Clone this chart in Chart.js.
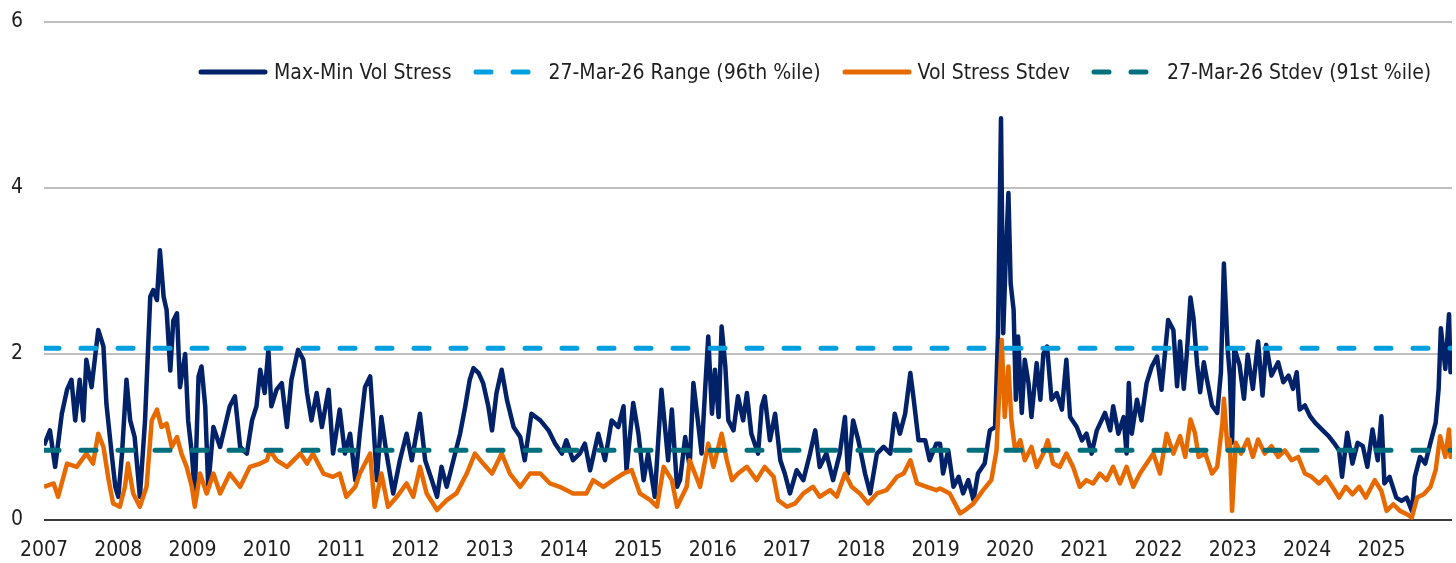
<!DOCTYPE html>
<html>
<head>
<meta charset="utf-8">
<title>Vol stress</title>
<script src="https://cdn.jsdelivr.net/npm/chart.js@4.4.1/dist/chart.umd.min.js"></script>
<style>
  body { margin: 0; background: #fff; }
  #wrap { position: relative; width: 1456px; height: 563px; }
  #legend {
    position: absolute; left: 198px; top: 57px;
    display: flex; align-items: center; white-space: nowrap;
    font-family: "DejaVu Sans Condensed", "Liberation Sans", sans-serif;
    font-size: 21px; line-height: 30px; color: #1f1f1f;
  }
  .item { display: flex; align-items: center; margin-right: 21px; }
  .item svg { margin-right: 6px; }
</style>
</head>
<body>
<div id="wrap">
  <canvas id="myChart" width="1456" height="563"></canvas>
  <div id="legend"></div>
</div>
<script>
//
// Data (x values are decimal years)
//

var seriesNames = ['Max-Min Vol Stress', '27-Mar-26 Range (96th %ile)', 'Vol Stress Stdev', '27-Mar-26 Stdev (91st %ile)'];

var tickYears = [2007, 2008, 2009, 2010, 2011, 2012, 2013, 2014, 2015, 2016,
  2017, 2018, 2019, 2020, 2021, 2022, 2023, 2024, 2025];
var yTicks = [0, 2, 4, 6];
var firstYear = 2007;
var lastYear = 2025.95;

var rangeLevel = 2.07;
var stdevLevel = 0.84;

var stressYears = [
  2007.00, 2007.08, 2007.15, 2007.24, 2007.31, 2007.37, 2007.42, 2007.48, 2007.53, 2007.57,
  2007.64, 2007.73, 2007.80, 2007.84, 2007.91, 2007.96, 2008.00, 2008.05, 2008.11, 2008.16,
  2008.22, 2008.29, 2008.36, 2008.43, 2008.47, 2008.52, 2008.56, 2008.61, 2008.65, 2008.70,
  2008.74, 2008.79, 2008.83, 2008.90, 2008.94, 2008.99, 2009.03, 2009.08, 2009.12, 2009.17,
  2009.21, 2009.28, 2009.37, 2009.50, 2009.57, 2009.64, 2009.73, 2009.80, 2009.86, 2009.91,
  2009.97, 2010.02, 2010.06, 2010.13, 2010.20, 2010.27, 2010.33, 2010.42, 2010.49, 2010.54,
  2010.60, 2010.67, 2010.74, 2010.83, 2010.89, 2010.98, 2011.05, 2011.12, 2011.19, 2011.25,
  2011.32, 2011.39, 2011.43, 2011.48, 2011.54, 2011.61, 2011.70, 2011.79, 2011.88, 2011.95,
  2012.06, 2012.13, 2012.22, 2012.29, 2012.35, 2012.42, 2012.51, 2012.60, 2012.67, 2012.73,
  2012.78, 2012.85, 2012.91, 2012.98, 2013.03, 2013.09, 2013.16, 2013.23, 2013.32, 2013.41,
  2013.47, 2013.56, 2013.68, 2013.79, 2013.88, 2013.97, 2014.03, 2014.12, 2014.21, 2014.28,
  2014.35, 2014.46, 2014.55, 2014.64, 2014.73, 2014.80, 2014.84, 2014.93, 2015.00, 2015.07,
  2015.13, 2015.22, 2015.31, 2015.40, 2015.45, 2015.52, 2015.56, 2015.63, 2015.69, 2015.74,
  2015.81, 2015.85, 2015.90, 2015.94, 2015.99, 2016.03, 2016.08, 2016.12, 2016.17, 2016.21,
  2016.28, 2016.34, 2016.41, 2016.46, 2016.52, 2016.61, 2016.66, 2016.70, 2016.77, 2016.84,
  2016.91, 2016.97, 2017.04, 2017.13, 2017.22, 2017.31, 2017.38, 2017.44, 2017.53, 2017.62,
  2017.71, 2017.78, 2017.82, 2017.89, 2017.96, 2018.05, 2018.12, 2018.21, 2018.30, 2018.39,
  2018.45, 2018.52, 2018.59, 2018.66, 2018.70, 2018.77, 2018.86, 2018.92, 2019.01, 2019.06,
  2019.10, 2019.17, 2019.24, 2019.31, 2019.37, 2019.44, 2019.51, 2019.57, 2019.66, 2019.73,
  2019.80, 2019.84, 2019.88, 2019.91, 2019.94, 2019.98, 2020.01, 2020.05, 2020.08, 2020.11,
  2020.16, 2020.20, 2020.25, 2020.29, 2020.36, 2020.41, 2020.45, 2020.50, 2020.56, 2020.63,
  2020.70, 2020.76, 2020.81, 2020.90, 2020.97, 2021.03, 2021.10, 2021.17, 2021.28, 2021.35,
  2021.39, 2021.46, 2021.53, 2021.57, 2021.60, 2021.64, 2021.71, 2021.77, 2021.84, 2021.91,
  2021.98, 2022.04, 2022.13, 2022.20, 2022.25, 2022.29, 2022.34, 2022.38, 2022.43, 2022.47,
  2022.52, 2022.56, 2022.61, 2022.65, 2022.72, 2022.79, 2022.84, 2022.88, 2022.93, 2022.96,
  2022.99, 2023.02, 2023.09, 2023.15, 2023.20, 2023.27, 2023.34, 2023.40, 2023.45, 2023.52,
  2023.61, 2023.68, 2023.75, 2023.81, 2023.86, 2023.90, 2023.97, 2024.04, 2024.11, 2024.20,
  2024.29, 2024.36, 2024.43, 2024.47, 2024.54, 2024.61, 2024.68, 2024.75, 2024.81, 2024.88,
  2024.95, 2025.00, 2025.04, 2025.11, 2025.20, 2025.27, 2025.34, 2025.41, 2025.45, 2025.52,
  2025.59, 2025.66, 2025.73, 2025.77, 2025.80, 2025.86, 2025.91, 2025.93, 2025.95
];
var stressValues = [
  0.90, 1.08, 0.64, 1.28, 1.57, 1.69, 1.20, 1.69, 1.20, 1.93,
  1.60, 2.29, 2.09, 1.40, 0.80, 0.40, 0.28, 0.80, 1.69, 1.20,
  1.00, 0.28, 1.20, 2.69, 2.77, 2.65, 3.25, 2.69, 2.53, 1.80,
  2.40, 2.49, 1.60, 2.00, 1.20, 0.80, 0.32, 1.73, 1.85, 1.37,
  0.40, 1.12, 0.88, 1.37, 1.49, 0.88, 0.80, 1.20, 1.37, 1.81,
  1.53, 2.05, 1.37, 1.57, 1.65, 1.12, 1.69, 2.05, 1.93, 1.53,
  1.20, 1.53, 1.12, 1.57, 0.80, 1.33, 0.80, 1.04, 0.48, 1.04,
  1.60, 1.73, 1.20, 0.48, 1.24, 0.80, 0.32, 0.72, 1.04, 0.72,
  1.28, 0.72, 0.48, 0.28, 0.64, 0.40, 0.72, 1.04, 1.37, 1.69,
  1.83, 1.77, 1.65, 1.37, 1.08, 1.53, 1.81, 1.45, 1.12, 1.00,
  0.72, 1.28, 1.20, 1.08, 0.92, 0.80, 0.96, 0.72, 0.80, 0.92,
  0.60, 1.04, 0.72, 1.20, 1.12, 1.37, 0.60, 1.41, 1.04, 0.48,
  0.80, 0.28, 1.57, 0.72, 1.33, 0.40, 0.48, 1.00, 0.64, 1.65,
  1.12, 0.80, 1.60, 2.21, 1.28, 1.81, 1.24, 2.33, 1.85, 1.20,
  1.08, 1.49, 1.20, 1.53, 1.04, 0.80, 1.37, 1.49, 0.96, 1.28,
  0.72, 0.56, 0.32, 0.60, 0.48, 0.80, 1.08, 0.64, 0.80, 0.48,
  0.80, 1.24, 0.56, 1.20, 0.96, 0.56, 0.32, 0.80, 0.88, 0.80,
  1.28, 1.04, 1.28, 1.77, 1.49, 0.96, 0.96, 0.72, 0.92, 0.92,
  0.56, 0.84, 0.40, 0.52, 0.32, 0.48, 0.24, 0.56, 0.68, 1.08,
  1.12, 2.25, 4.84, 2.25, 3.05, 3.94, 2.85, 2.53, 1.45, 2.21,
  1.29, 1.93, 1.65, 1.24, 1.89, 1.45, 2.00, 2.09, 1.45, 1.53,
  1.33, 1.93, 1.24, 1.12, 0.96, 1.04, 0.80, 1.08, 1.29, 1.08,
  1.37, 1.04, 1.24, 0.80, 1.65, 1.04, 1.45, 1.20, 1.65, 1.85,
  1.97, 1.57, 2.41, 2.29, 1.61, 2.15, 1.58, 1.99, 2.68, 2.44,
  1.87, 1.54, 1.90, 1.70, 1.38, 1.29, 1.78, 3.09, 2.07, 1.74,
  0.93, 2.07, 1.87, 1.46, 1.99, 1.58, 2.15, 1.50, 2.11, 1.74,
  1.90, 1.66, 1.74, 1.58, 1.78, 1.33, 1.38, 1.25, 1.17, 1.09,
  1.01, 0.93, 0.84, 0.52, 1.05, 0.68, 0.93, 0.89, 0.64, 1.09,
  0.72, 1.25, 0.44, 0.52, 0.27, 0.23, 0.27, 0.11, 0.52, 0.76,
  0.68, 0.93, 1.17, 1.58, 2.31, 1.82, 2.48, 1.78, 2.07
];

var stdevYears = [
  2007.00, 2007.13, 2007.19, 2007.31, 2007.44, 2007.57, 2007.66, 2007.73, 2007.80, 2007.87,
  2007.93, 2008.02, 2008.09, 2008.13, 2008.20, 2008.29, 2008.38, 2008.45, 2008.52, 2008.58,
  2008.65, 2008.72, 2008.79, 2008.85, 2008.92, 2008.99, 2009.03, 2009.10, 2009.19, 2009.28,
  2009.37, 2009.50, 2009.64, 2009.77, 2009.91, 2010.00, 2010.04, 2010.13, 2010.27, 2010.45,
  2010.54, 2010.62, 2010.76, 2010.89, 2010.98, 2011.07, 2011.19, 2011.25, 2011.39, 2011.45,
  2011.54, 2011.63, 2011.75, 2011.88, 2011.97, 2012.06, 2012.15, 2012.29, 2012.42, 2012.55,
  2012.69, 2012.80, 2012.91, 2013.03, 2013.16, 2013.27, 2013.41, 2013.54, 2013.68, 2013.81,
  2013.94, 2014.12, 2014.30, 2014.39, 2014.53, 2014.66, 2014.80, 2014.91, 2015.02, 2015.16,
  2015.25, 2015.34, 2015.45, 2015.52, 2015.65, 2015.69, 2015.76, 2015.83, 2015.94, 2016.01,
  2016.12, 2016.19, 2016.26, 2016.34, 2016.46, 2016.59, 2016.70, 2016.82, 2016.88, 2017.00,
  2017.11, 2017.22, 2017.35, 2017.44, 2017.58, 2017.67, 2017.78, 2017.87, 2017.98, 2018.09,
  2018.21, 2018.34, 2018.48, 2018.57, 2018.66, 2018.75, 2018.88, 2019.01, 2019.06, 2019.19,
  2019.33, 2019.40, 2019.51, 2019.64, 2019.75, 2019.82, 2019.89, 2019.93, 2019.98, 2020.02,
  2020.07, 2020.14, 2020.20, 2020.29, 2020.36, 2020.45, 2020.51, 2020.58, 2020.67, 2020.76,
  2020.85, 2020.94, 2021.03, 2021.12, 2021.21, 2021.30, 2021.39, 2021.48, 2021.57, 2021.66,
  2021.75, 2021.84, 2021.93, 2022.02, 2022.11, 2022.20, 2022.29, 2022.36, 2022.43, 2022.49,
  2022.54, 2022.63, 2022.72, 2022.79, 2022.86, 2022.88, 2022.93, 2022.96, 2022.99, 2023.04,
  2023.11, 2023.20, 2023.27, 2023.34, 2023.43, 2023.52, 2023.61, 2023.70, 2023.79, 2023.88,
  2023.97, 2024.06, 2024.16, 2024.25, 2024.34, 2024.43, 2024.52, 2024.61, 2024.70, 2024.79,
  2024.91, 2025.00, 2025.07, 2025.16, 2025.25, 2025.34, 2025.41, 2025.48, 2025.57, 2025.66,
  2025.73, 2025.79, 2025.86, 2025.91, 2025.93, 2025.95
];
var stdevValues = [
  0.40, 0.44, 0.28, 0.68, 0.64, 0.80, 0.68, 1.04, 0.88, 0.48,
  0.20, 0.16, 0.40, 0.68, 0.32, 0.16, 0.40, 1.20, 1.33, 1.12,
  1.16, 0.88, 1.00, 0.80, 0.64, 0.40, 0.16, 0.56, 0.32, 0.56,
  0.32, 0.56, 0.40, 0.64, 0.68, 0.72, 0.84, 0.72, 0.64, 0.80,
  0.68, 0.80, 0.56, 0.52, 0.56, 0.28, 0.40, 0.56, 0.80, 0.16,
  0.56, 0.16, 0.28, 0.44, 0.28, 0.64, 0.32, 0.12, 0.24, 0.32,
  0.56, 0.80, 0.68, 0.56, 0.80, 0.56, 0.40, 0.56, 0.56, 0.44,
  0.40, 0.32, 0.32, 0.48, 0.40, 0.48, 0.56, 0.60, 0.32, 0.24,
  0.16, 0.64, 0.48, 0.16, 0.40, 0.72, 0.56, 0.40, 0.92, 0.64,
  1.04, 0.72, 0.48, 0.56, 0.64, 0.48, 0.64, 0.52, 0.24, 0.16,
  0.20, 0.32, 0.40, 0.28, 0.36, 0.28, 0.56, 0.40, 0.32, 0.20,
  0.32, 0.36, 0.52, 0.56, 0.72, 0.44, 0.40, 0.36, 0.38, 0.32,
  0.08, 0.12, 0.20, 0.36, 0.48, 0.84, 2.17, 1.24, 1.85, 1.20,
  0.84, 0.96, 0.72, 0.88, 0.64, 0.80, 0.96, 0.68, 0.64, 0.80,
  0.64, 0.40, 0.48, 0.44, 0.56, 0.48, 0.64, 0.44, 0.64, 0.40,
  0.56, 0.68, 0.80, 0.56, 1.04, 0.80, 1.01, 0.76, 1.21, 1.05,
  0.76, 0.80, 0.56, 0.64, 1.17, 1.46, 0.84, 0.97, 0.11, 0.93,
  0.80, 0.97, 0.76, 0.97, 0.80, 0.89, 0.76, 0.84, 0.72, 0.76,
  0.56, 0.52, 0.44, 0.52, 0.40, 0.27, 0.40, 0.31, 0.40, 0.27,
  0.48, 0.35, 0.11, 0.19, 0.11, 0.07, 0.03, 0.27, 0.31, 0.40,
  0.60, 1.01, 0.76, 1.09, 0.76, 0.84
];

// Colors
var navy = '#012169';
var orange = '#E66A00';
var lightBlue = '#009FDF';
var teal = '#006F7D';
var textColor = '#1f1f1f';
var fontFamily = '"DejaVu Sans Condensed", "Liberation Sans", sans-serif';


//
// Methods
//

/**
 * Pair x and y arrays into points for the linear x scale
 */
function toPoints(xs, ys) {
    return xs.map(function (x, i) {
        return { x: x, y: ys[i] };
    });
};

/**
 * Flat line across the whole x range
 */
function levelLine(level) {
    return [{ x: firstYear, y: level }, { x: lastYear, y: level }];
};

/**
 * Build the html legend from the chart datasets
 */
function renderLegend(chart) {
    var legend = document.querySelector('#legend');
    legend.innerHTML = '';
    chart.data.datasets.forEach(function (ds) {
        var dash = ds.borderDash && ds.borderDash.length ? ' stroke-dasharray="15 22"' : '';
        var item = document.createElement('div');
        item.className = 'item';
        item.innerHTML =
            '<svg width="70" height="10"><line x1="3" y1="5" x2="67" y2="5" stroke="' + ds.borderColor +
            '" stroke-width="5" stroke-linecap="round"' + dash + '/></svg><span></span>';
        item.querySelector('span').textContent = ds.label;
        legend.appendChild(item);
    });
};


//
// Chart
//

var ctx = document.querySelector('#myChart').getContext('2d');
var chart = new Chart(ctx, {
    type: 'line',
    data: {
        datasets: [{
            label: seriesNames[0],
            data: toPoints(stressYears, stressValues),
            borderColor: navy,
            borderWidth: 4.5,
            order: 4
        }, {
            label: seriesNames[1],
            data: levelLine(rangeLevel),
            borderColor: lightBlue,
            borderWidth: 5,
            borderDash: [15, 22],
            borderCapStyle: 'round',
            order: 2
        }, {
            label: seriesNames[2],
            data: toPoints(stdevYears, stdevValues),
            borderColor: orange,
            borderWidth: 4.5,
            order: 3
        }, {
            label: seriesNames[3],
            data: levelLine(stdevLevel),
            borderColor: teal,
            borderWidth: 5,
            borderDash: [15, 22],
            borderCapStyle: 'round',
            order: 1
        }]
    },
    options: {
        responsive: false,
        animation: false,
        elements: {
            point: { radius: 0, hoverRadius: 0 },
            line: { tension: 0, borderJoinStyle: 'round' }
        },
        layout: { padding: { top: 22, right: 4, left: 0, bottom: 0 } },
        plugins: {
            legend: { display: false },
            tooltip: { enabled: false }
        },
        scales: {
            x: {
                type: 'linear',
                min: firstYear,
                max: lastYear,
                afterBuildTicks: function (axis) {
                    axis.ticks = tickYears.map(function (v) { return { value: v }; });
                },
                afterFit: function (axis) {
                    axis.height = 43;
                },
                grid: { display: false, drawTicks: false },
                border: { display: false },
                ticks: {
                    autoSkip: false,
                    maxRotation: 0,
                    padding: 18,
                    color: textColor,
                    font: { family: fontFamily, size: 21 },
                    callback: function (value) { return String(value); }
                }
            },
            y: {
                min: 0,
                max: 6,
                afterBuildTicks: function (axis) {
                    axis.ticks = yTicks.map(function (v) { return { value: v }; });
                },
                afterFit: function (axis) {
                    axis.width = 44;
                    axis.paddingTop = 0;
                    axis.paddingBottom = 0;
                },
                grid: {
                    drawTicks: false,
                    lineWidth: 2,
                    color: function (c) { return c.tick && c.tick.value === 0 ? '#3a3a3a' : '#bfbfbf'; }
                },
                border: { display: false },
                ticks: {
                    padding: 21,
                    color: textColor,
                    font: { family: fontFamily, size: 21 },
                    callback: function (value) { return String(value); }
                }
            }
        }
    }
});

renderLegend(chart);
</script>
</body>
</html>
